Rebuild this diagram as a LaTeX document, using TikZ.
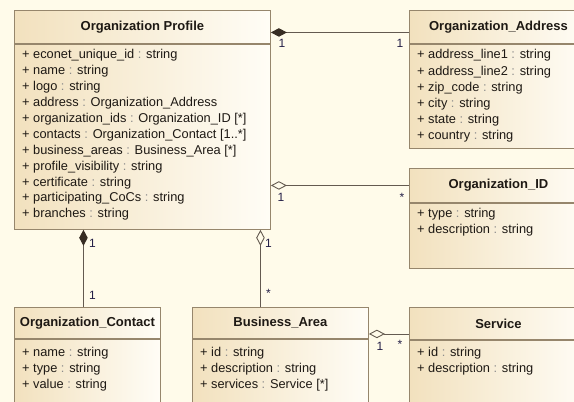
\documentclass[tikz,border=0pt]{standalone}
\usepackage{fontspec}
\setmainfont{Liberation Sans}
\usetikzlibrary{arrows.meta,calc}
\definecolor{bg}{RGB}{255,251,234}
\definecolor{boxL}{RGB}{242,225,190}
\definecolor{boxR}{RGB}{255,253,246}
\definecolor{bord}{RGB}{150,134,108}
\definecolor{conn}{RGB}{100,90,80}
\definecolor{dia}{RGB}{55,45,35}
\definecolor{txt}{RGB}{30,25,20}
\definecolor{mult}{RGB}{35,30,70}
\definecolor{colgray}{RGB}{140,140,140}
\newcommand{\attrsep}{\textcolor{colgray}{:}}
\tikzset{
 classhead/.style={draw=bord, line width=0.9pt, left color=boxL, right color=boxR, anchor=north west, inner sep=0pt, font=\fontsize{13}{15}\selectfont\bfseries, text=txt},
 classbody/.style={draw=bord, line width=0.9pt, left color=boxL, right color=boxR, anchor=north west, inner sep=0pt},
 attrs/.style={anchor=north west, inner sep=0pt, align=left, font=\fontsize{12.8}{16}\selectfont, text=txt},
 multlab/.style={font=\fontsize{12}{13}\selectfont, text=mult, inner sep=0pt},
 compo/.style={draw=conn, line width=0.9pt, {Diamond[length=16pt,width=8.5pt,fill=dia,color=dia]}-},
 aggr/.style={draw=conn, line width=0.9pt, {Diamond[open,length=16pt,width=8.5pt,fill=bg,color=conn]}-},
}
\begin{document}
\begin{tikzpicture}[x=1pt,y=-1pt]
\useasboundingbox (0,0) rectangle (574,402);
\fill[bg] (0,0) rectangle (574,402);
\clip (0,0) rectangle (574,402);

% Organization Profile
\node[classhead, minimum width=256pt, minimum height=33pt] (profT) at (14,10) {Organization Profile};
\node[classbody, minimum width=256pt, minimum height=185pt] (profB) at (profT.south west) {};
\node[attrs, font=\fontsize{12.8}{15.9}\selectfont] (profA) at ([xshift=8pt,yshift=-5.5pt]profB.north west) {%
+ econet\_unique\_id \attrsep{} string\\
+ name \attrsep{} string\\
+ logo \attrsep{} string\\
+ address \attrsep{} Organization\_Address\\
+ organization\_ids \attrsep{} Organization\_ID [*]\\
+ contacts \attrsep{} Organization\_Contact [1..*]\\
+ business\_areas \attrsep{} Business\_Area [*]\\
+ profile\_visibility \attrsep{} string\\
+ certificate \attrsep{} string\\
+ participating\_CoCs \attrsep{} string\\
+ branches \attrsep{} string};

% Organization_Address
\node[classhead, minimum width=178pt, minimum height=33pt] (addrT) at (409,10) {Organization\_Address};
\node[classbody, minimum width=178pt, minimum height=104pt] (addrB) at (addrT.south west) {};
\node[attrs, font=\fontsize{12.8}{16.2}\selectfont] (addrA) at ([xshift=8pt,yshift=-5.5pt]addrB.north west) {%
+ address\_line1 \attrsep{} string\\
+ address\_line2 \attrsep{} string\\
+ zip\_code \attrsep{} string\\
+ city \attrsep{} string\\
+ state \attrsep{} string\\
+ country \attrsep{} string};

% Organization_ID
\node[classhead, minimum width=178pt, minimum height=34pt] (idT) at (409,168) {Organization\_ID};
\node[classbody, minimum width=178pt, minimum height=65pt] (idB) at (idT.south west) {};
\node[attrs] (idA) at ([xshift=8pt,yshift=-5pt]idB.north west) {%
+ type \attrsep{} string\\
+ description \attrsep{} string};

% Organization_Contact
\node[classhead, minimum width=146pt, minimum height=31pt] (contT) at (14,307) {Organization\_Contact};
\node[classbody, minimum width=146pt, minimum height=80pt] (contB) at (contT.south west) {};
\node[attrs] (contA) at ([xshift=8pt,yshift=-8pt]contB.north west) {%
+ name \attrsep{} string\\
+ type \attrsep{} string\\
+ value \attrsep{} string};

% Business_Area
\node[classhead, minimum width=176pt, minimum height=31pt] (baT) at (192,307) {Business\_Area};
\node[classbody, minimum width=176pt, minimum height=80pt] (baB) at (baT.south west) {};
\node[attrs] (baA) at ([xshift=8pt,yshift=-8pt]baB.north west) {%
+ id \attrsep{} string\\
+ description \attrsep{} string\\
+ services \attrsep{} Service [*]};

% Service
\node[classhead, minimum width=178pt, minimum height=32pt] (svcT) at (409,307) {Service};
\node[classbody, minimum width=178pt, minimum height=80pt] (svcB) at (svcT.south west) {};
\node[attrs] (svcA) at ([xshift=8pt,yshift=-7pt]svcB.north west) {%
+ id \attrsep{} string\\
+ description \attrsep{} string};

% connectors
\coordinate (pa1) at ([yshift=-5.5pt]profT.east);
\coordinate (pa2) at ([yshift=-5.5pt]addrT.west);
\draw[compo] (pa1) -- (pa2);
\node[multlab] (m1) at ([xshift=11pt,yshift=-11pt]pa1) {1};
\node[multlab] (m2) at ([xshift=-9pt,yshift=-11pt]pa2) {1};

\coordinate (pi1) at (profB.east |- idT.west);
\draw[aggr] (pi1) -- (idT.west);
\node[multlab] (m3) at ([xshift=10pt,yshift=-12pt]pi1) {1};
\node[multlab] (m4) at ([xshift=-7pt,yshift=-12pt]idT.west) {*};

\coordinate (pc2) at ([xshift=-4pt]contT.north);
\coordinate (pc1) at (profB.south -| pc2);
\draw[compo] (pc1) -- (pc2);
\node[multlab] (m5) at ([xshift=9pt,yshift=-14pt]pc1) {1};
\node[multlab] (m6) at ([xshift=9pt,yshift=12pt]pc2) {1};

\coordinate (pb2) at ([xshift=-20pt]baT.north);
\coordinate (pb1) at (profB.south -| pb2);
\draw[aggr] (pb1) -- (pb2);
\node[multlab] (m7) at ([xshift=8pt,yshift=-14pt]pb1) {1};
\node[multlab] (m8) at ([xshift=8pt,yshift=14pt]pb2) {*};

\coordinate (bs1) at ([yshift=-11pt]baT.east);
\coordinate (bs2) at (svcT.west |- bs1);
\draw[aggr] (bs1) -- (bs2);
\node[multlab] (m9) at ([xshift=11pt,yshift=-12pt]bs1) {1};
\node[multlab] (m10) at ([xshift=-9pt,yshift=-10pt]bs2) {*};
\end{tikzpicture}
\end{document}
